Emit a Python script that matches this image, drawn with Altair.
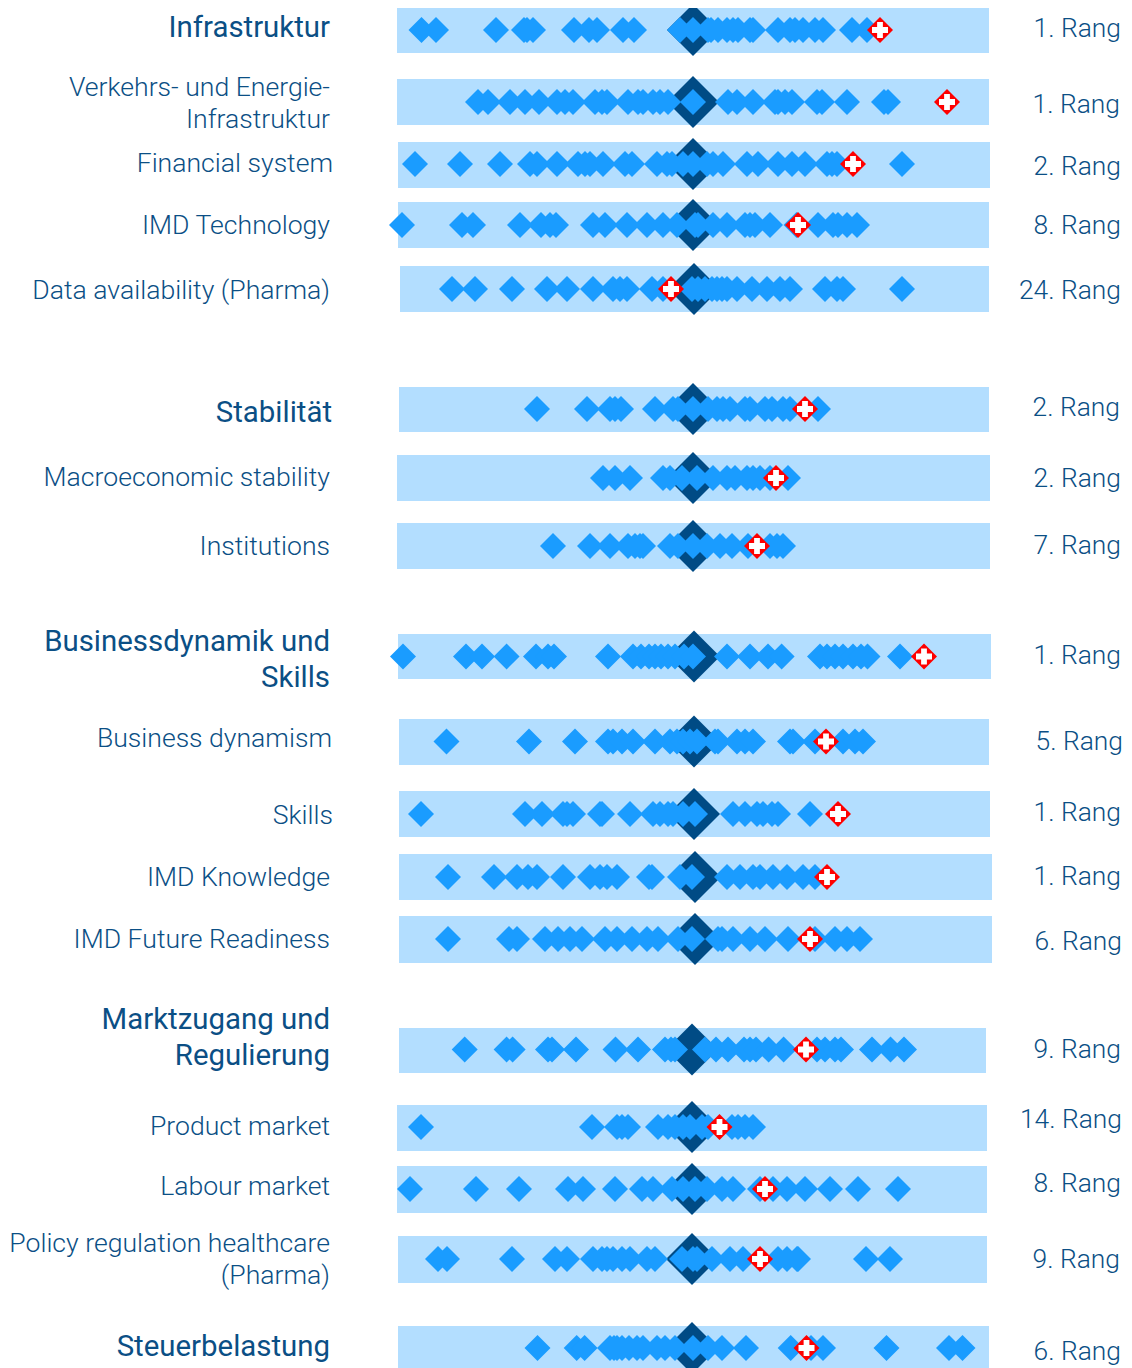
import altair as alt
import pandas as pd

names = ["Infrastruktur", "Verkehrs- und Energie-Infrastruktur", "Financial system", "IMD Technology",
         "Data availability (Pharma)", "Stabilität", "Macroeconomic stability", "Institutions",
         "Businessdynamik und Skills", "Business dynamism", "Skills", "IMD Knowledge", "IMD Future Readiness",
         "Marktzugang und Regulierung", "Product market", "Labour market",
         "Policy regulation healthcare (Pharma)", "Steuerbelastung"]
band_x0 = [397, 397, 398, 398, 400, 399, 397, 397, 398, 399, 399, 399, 399, 399, 397, 397, 398, 398]
band_x1 = [989, 989, 990, 989, 989, 989, 990, 990, 991, 989, 990, 992, 992, 986, 987, 987, 987, 989]
band_y0 = [8, 79, 142, 202, 266, 387, 455, 523, 634, 719, 791, 854, 916, 1028, 1105, 1166, 1236, 1326]
band_y1 = [53, 125, 188, 248, 312, 432, 501, 569, 679, 765, 837, 900, 963, 1073, 1151, 1213, 1283, 1376]
row_y = [30, 102, 164, 225, 289, 409, 478, 546, 656.5, 741.5, 814, 877, 939, 1049.5, 1127, 1189, 1259, 1348]
median = [693, 693, 693, 693, 694, 693, 693, 693, 694, 694, 694, 695, 695, 692, 692, 692, 692, 692]
swiss = [880, 947, 853, 798, 671, 805, 776, 757, 924, 826, 838, 827, 810, 806, 719.5, 765, 760, 806.5]

countries = [
    [421.5, 436, 496, 524, 527, 533, 574, 589, 597, 623, 634, 680, 693, 708, 711, 718, 727, 733, 738, 750, 753, 778, 790, 795, 803, 815, 823, 852, 867],
    [478, 488, 510, 525, 539, 557, 565, 573, 595, 602, 607, 628, 638, 643, 653, 660, 668, 693, 728, 737, 753, 775, 778, 785, 792, 817, 822, 847, 884, 888],
    [415, 460, 500, 530, 537, 557, 578, 585, 590, 603, 625, 632, 657, 667, 672, 683, 693, 707, 713, 723, 747, 758, 778, 792, 805, 827, 832, 837, 902],
    [402, 462, 473, 520, 541, 550, 556, 593, 605, 627, 647, 663, 677, 695, 698, 713, 727, 745, 750, 755, 770, 796.5, 818, 833, 838, 847, 857],
    [452, 475, 512, 547, 567, 593, 613, 620, 627, 652, 663, 692, 698, 705, 712, 717, 722, 727, 737, 752, 767, 780, 790, 825, 837, 843, 902],
    [537, 587, 610, 615, 621, 655, 673, 678, 693, 708, 717, 723, 730, 745, 750, 765, 772, 783, 790, 818],
    [603, 615, 630, 663, 670, 682, 697, 713, 727, 735, 747, 753, 760, 770, 788],
    [553, 590, 610, 628, 635, 640, 643, 670, 678, 693, 707, 720, 732, 748, 770, 777, 783],
    [403, 466, 482, 506.6, 536, 548, 554, 608, 633, 641, 649, 655, 661, 668, 675, 684, 693, 727, 750, 768, 781.6, 820, 827, 835, 843, 853, 861, 867.5, 900],
    [446.5, 529, 575, 608, 613, 622, 633, 655, 670, 677, 683, 690, 697, 715, 718, 737, 745, 753, 790, 793, 815, 843, 855, 863],
    [421, 525, 542, 563, 567, 573, 600, 602, 630, 653, 660, 668, 673, 683, 695, 733, 745, 757, 763, 772, 778, 810],
    [448, 494, 517, 528, 537, 563, 590, 600, 607, 617, 649, 652, 680, 692, 727, 740, 753, 760, 773, 787, 803, 815],
    [448, 509, 517, 545, 558, 570, 582, 605, 617, 632, 647, 658, 678, 692, 718, 722, 733, 750, 765, 788, 815, 835, 847, 860],
    [464.7, 506.6, 512.6, 548, 552, 576, 615.5, 638, 665, 671, 675, 705, 716, 728, 744, 750, 756, 768.6, 783.6, 817, 825, 835, 841, 872, 890.5, 904],
    [421, 592, 617, 622, 628, 658, 668, 675, 683, 690, 702, 708, 732, 738, 745, 753],
    [410, 476, 519, 568, 583, 615, 642, 653, 672, 683, 695, 707, 722, 733, 760, 773, 787, 805, 830, 858, 898],
    [438, 447, 512, 555, 567, 593, 602, 607, 613, 622, 630, 647, 655, 682, 693, 697, 712, 730, 743, 778, 787, 797, 798, 866, 890],
    [537.5, 576.7, 584.6, 610, 614, 617, 622, 629, 637, 643, 657, 665, 675, 693, 708, 722, 746, 790.7, 811, 823, 886.5, 949, 962.5],
]

label_text = ["Infrastruktur", "Verkehrs- und Energie-", "Infrastruktur", "Financial system", "IMD Technology",
              "Data availability (Pharma)", "Stabilität", "Macroeconomic stability", "Institutions",
              "Businessdynamik und", "Skills", "Business dynamism", "Skills", "IMD Knowledge",
              "IMD Future Readiness", "Marktzugang und", "Regulierung", "Product market", "Labour market",
              "Policy regulation healthcare", "(Pharma)", "Steuerbelastung"]
label_y = [28, 88, 120, 164, 226, 291, 413, 478, 547, 642, 678, 739, 816, 878, 940, 1020, 1056, 1127, 1187, 1244, 1276, 1347]
label_x = [330, 330, 330, 333, 330, 330, 332, 330, 330, 330, 330, 332, 333, 330, 330, 330, 330, 330, 330, 330, 330, 330]
label_head = [1, 0, 0, 0, 0, 0, 1, 0, 0, 1, 1, 0, 0, 0, 0, 1, 1, 0, 0, 0, 0, 1]

rank_text = ["1. Rang", "1. Rang", "2. Rang", "8. Rang", "24. Rang", "2. Rang", "2. Rang", "7. Rang", "1. Rang",
             "5. Rang", "1. Rang", "1. Rang", "6. Rang", "9. Rang", "14. Rang", "8. Rang", "9. Rang", "6. Rang"]
rank_y = [29, 105, 167, 226, 291, 408, 479, 546, 656, 742, 813, 877, 942, 1050, 1120, 1184, 1260, 1352]
rank_x = [1121, 1120, 1121, 1121, 1121, 1120, 1121, 1121, 1121, 1123, 1121, 1121, 1122, 1121, 1122, 1121, 1120, 1121]

BAND = "#b3deff"
BLUE = "#1a9cff"
DARK = "#004b85"
RED = "#ff0000"
TEXT = "#0b4f85"

x_s = alt.Scale(domain=[8, 1124], nice=False, zero=False)
y_s = alt.Scale(domain=[1368, 8], nice=False, zero=False)
X = lambda f: alt.X(f, type="quantitative", scale=x_s, axis=None)
Y = lambda f: alt.Y(f, type="quantitative", scale=y_s, axis=None)

rows = pd.DataFrame({"name": names, "x0": band_x0, "x1": band_x1, "y0": band_y0, "y1": band_y1,
                     "y": row_y, "median": median, "swiss": swiss})
pts = pd.DataFrame([{"x": v, "y": row_y[i]} for i, r in enumerate(countries) for v in r])
labels = pd.DataFrame({"t": label_text, "x": label_x, "y": label_y, "head": label_head})
ranks = pd.DataFrame({"t": rank_text, "x": rank_x, "y": rank_y})

bands = alt.Chart(rows).mark_rect(color=BAND).encode(x=X("x0"), x2="x1", y=Y("y0"), y2="y1")
big = alt.Chart(rows).mark_point(shape="diamond", filled=True, opacity=1, size=2704, color=DARK, strokeWidth=0).encode(x=X("median"), y=Y("y"))
dots = alt.Chart(pts).mark_point(shape="diamond", filled=True, opacity=1, size=676, color=BLUE, strokeWidth=0).encode(x=X("x"), y=Y("y"))
sw_d = alt.Chart(rows).mark_point(shape="diamond", filled=True, opacity=1, size=676, color=RED, strokeWidth=0).encode(x=X("swiss"), y=Y("y"))
cross = alt.Chart(rows).mark_point(
    shape="M-0.36,-1H0.36V-0.36H1V0.36H0.36V1H-0.36V0.36H-1V-0.36H-0.36Z",
    filled=True, opacity=1, size=256, color="#ffffff", strokeWidth=0).encode(x=X("swiss"), y=Y("y"))

head_t = alt.Chart(labels[labels["head"] == 1]).mark_text(align="right", baseline="middle", font="Roboto", fontSize=29.4, fontWeight=400, color=TEXT).encode(x=X("x"), y=Y("y"), text="t:N")
sub_t = alt.Chart(labels[labels["head"] == 0]).mark_text(align="right", baseline="middle", font="Roboto", fontSize=26.6, fontWeight=300, color=TEXT).encode(x=X("x"), y=Y("y"), text="t:N")
rank_t = alt.Chart(ranks).mark_text(align="right", baseline="middle", font="Roboto", fontSize=26.4, fontWeight=300, color=TEXT).encode(x=X("x"), y=Y("y"), text="t:N")

chart = alt.layer(bands, big, dots, sw_d, cross, head_t, sub_t, rank_t).properties(
    width=1116, height=1360, padding=0, autosize=alt.AutoSizeParams(type="none")
).configure_view(stroke=None)

chart.save("out.html", embed_options={"renderer": "svg", "actions": False})
